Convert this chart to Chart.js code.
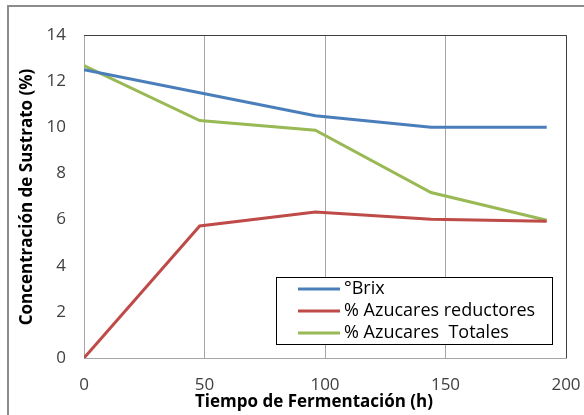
<!DOCTYPE html>
<html>
<head>
<meta charset="utf-8">
<script src="https://cdn.jsdelivr.net/npm/chart.js@4/dist/chart.umd.min.js"></script>
<style>
  html, body { margin: 0; padding: 0; background: #fff; }
  canvas { display: block; }
</style>
</head>
<body>
<canvas id="c" width="584" height="415"></canvas>
<script>
// Fermentation time (h)
const tiempos = [0, 48, 96, 144, 192];
// Series values (%)
const brix = [12.5, 11.5, 10.5, 10.0, 10.0];
const reductores = [0, 5.72, 6.33, 6.01, 5.93];
const totales = [12.67, 10.29, 9.87, 7.17, 5.97];
// Series names
const nombres = ['°Brix', '% Azucares reductores', '% Azucares  Totales'];
const colores = ['#4a7ebb', '#be4b48', '#98b954'];
// Axis titles
const tituloX = 'Tiempo de Fermentación (h)';
const tituloY = 'Concentración de Sustrato (%)';

const FONT = '"Open Sans", Lato, sans-serif';

function pares(xs, ys) { return xs.map((x, i) => ({ x: x, y: ys[i] })); }

const series = [brix, reductores, totales];

// Frame, titles and legend drawn on top of the plot
const decor = {
  id: 'decor',
  afterDraw(chart) {
    const ctx = chart.ctx;
    const a = chart.chartArea;
    ctx.save();
    // outer frame
    ctx.strokeStyle = '#8c8c8c';
    ctx.lineWidth = 2;
    ctx.beginPath();
    ctx.moveTo(8, 420);
    ctx.lineTo(8, 6);
    ctx.lineTo(590, 6);
    ctx.stroke();
    // plot area top and right edges
    ctx.strokeStyle = '#404040';
    ctx.lineWidth = 1;
    ctx.beginPath();
    ctx.moveTo(a.left, a.top + 0.5);
    ctx.lineTo(a.right + 0.5, a.top + 0.5);
    ctx.lineTo(a.right + 0.5, a.bottom);
    ctx.stroke();
    // axis titles
    ctx.fillStyle = '#000';
    ctx.font = 'bold 17px ' + FONT;
    ctx.textAlign = 'center';
    ctx.textBaseline = 'middle';
    ctx.fillText(tituloX, 314, 402);
    ctx.translate(27, 197);
    ctx.rotate(-Math.PI / 2);
    ctx.fillText(tituloY, 0, 0);
    ctx.setTransform(1, 0, 0, 1, 0, 0);
    // legend
    const lx = 276, ly = 277, lw = 276, lh = 67;
    ctx.fillStyle = '#fff';
    ctx.fillRect(lx, ly, lw, lh);
    ctx.strokeStyle = '#000';
    ctx.lineWidth = 1;
    ctx.strokeRect(lx + 0.5, ly + 0.5, lw, lh);
    ctx.font = '18px ' + FONT;
    ctx.textAlign = 'left';
    chart.data.datasets.forEach((ds, i) => {
      const y = 289 + i * 22;
      ctx.strokeStyle = ds.borderColor;
      ctx.lineWidth = 3;
      ctx.beginPath();
      ctx.moveTo(298, y);
      ctx.lineTo(340, y);
      ctx.stroke();
      ctx.fillStyle = '#000';
      ctx.fillText(ds.label, 344, y);
    });
    ctx.restore();
  }
};

new Chart(document.getElementById('c'), {
  type: 'line',
  data: {
    datasets: series.map((s, i) => ({
      label: nombres[i],
      data: pares(tiempos, s),
      borderColor: colores[i],
      backgroundColor: colores[i],
      borderWidth: 3,
      pointRadius: 0,
      tension: 0,
      fill: false
    }))
  },
  options: {
    responsive: false,
    animation: false,
    layout: { padding: { top: 35, right: 18, left: 0, bottom: 0 } },
    plugins: { legend: { display: false }, tooltip: { enabled: false } },
    scales: {
      x: {
        type: 'linear',
        min: 0, max: 200,
        ticks: { stepSize: 50, padding: 17, color: '#404040', font: { family: FONT, size: 17 } },
        grid: { display: true, color: '#a6a6a6', lineWidth: 1, drawTicks: false },
        border: { display: true, color: '#a6a6a6', width: 1 },
        afterFit(scale) {
          scale.height = 57;
          scale.paddingLeft = 0;
          scale.paddingRight = 0;
        }
      },
      y: {
        min: 0, max: 14,
        ticks: { stepSize: 2, padding: 18, color: '#404040', font: { family: FONT, size: 17 } },
        grid: { display: false, drawTicks: false },
        border: { display: true, color: '#a6a6a6', width: 1 },
        afterFit(scale) {
          scale.width = 84;
          scale.paddingTop = 0;
          scale.paddingBottom = 0;
        }
      }
    }
  },
  plugins: [decor]
});
</script>
</body>
</html>
